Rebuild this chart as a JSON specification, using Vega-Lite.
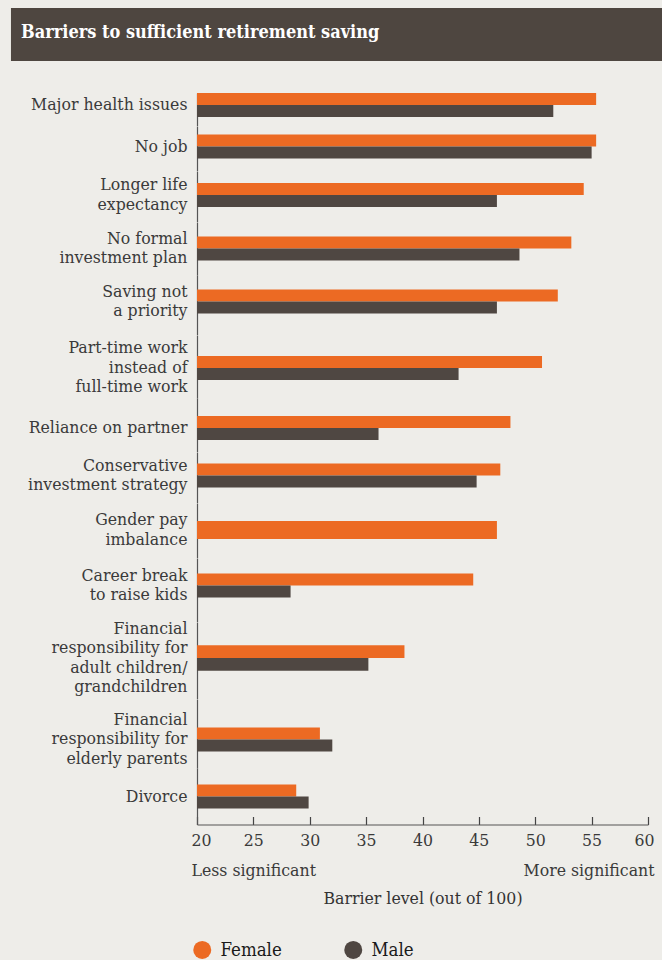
{
  "$schema": "https://vega.github.io/schema/vega-lite/v6.json",
  "background": "#eeede9",
  "padding": {"left": 10, "top": 8, "right": 0, "bottom": 0},
  "autosize": {"type": "pad"},
  "config": {
    "font": "DejaVu Serif Condensed",
    "view": {"stroke": null},
    "axisY": {"domainColor": "#555555", "domainWidth": 1.2, "ticks": false, "labelPadding": 10, "labelFont": "DejaVu Serif Condensed", "labelFontSize": 17.5, "labelColor": "#3a3a3a", "labelLineHeight": 19.5, "labelLimit": 400, "grid": false, "zindex": 1}
  },
  "datasets": {
    "barriers": [
      {"barrier": "Major health issues", "gender": "Female", "value": 55.4},
      {"barrier": "Major health issues", "gender": "Male", "value": 51.6},
      {"barrier": "No job", "gender": "Female", "value": 55.4},
      {"barrier": "No job", "gender": "Male", "value": 55.0},
      {"barrier": "Longer life|expectancy", "gender": "Female", "value": 54.3},
      {"barrier": "Longer life|expectancy", "gender": "Male", "value": 46.6},
      {"barrier": "No formal|investment plan", "gender": "Female", "value": 53.2},
      {"barrier": "No formal|investment plan", "gender": "Male", "value": 48.6},
      {"barrier": "Saving not|a priority", "gender": "Female", "value": 52.0},
      {"barrier": "Saving not|a priority", "gender": "Male", "value": 46.6},
      {"barrier": "Part-time work|instead of|full-time work", "gender": "Female", "value": 50.6},
      {"barrier": "Part-time work|instead of|full-time work", "gender": "Male", "value": 43.2},
      {"barrier": "Reliance on partner", "gender": "Female", "value": 47.8},
      {"barrier": "Reliance on partner", "gender": "Male", "value": 36.1},
      {"barrier": "Conservative|investment strategy", "gender": "Female", "value": 46.9},
      {"barrier": "Conservative|investment strategy", "gender": "Male", "value": 44.8},
      {"barrier": "Gender pay|imbalance", "gender": "Female", "value": 46.6},
      {"barrier": "Career break|to raise kids", "gender": "Female", "value": 44.5},
      {"barrier": "Career break|to raise kids", "gender": "Male", "value": 28.3},
      {"barrier": "Financial|responsibility for|adult children/|grandchildren", "gender": "Female", "value": 38.4},
      {"barrier": "Financial|responsibility for|adult children/|grandchildren", "gender": "Male", "value": 35.2},
      {"barrier": "Financial|responsibility for|elderly parents", "gender": "Female", "value": 30.9},
      {"barrier": "Financial|responsibility for|elderly parents", "gender": "Male", "value": 32.0},
      {"barrier": "Divorce", "gender": "Female", "value": 28.8},
      {"barrier": "Divorce", "gender": "Male", "value": 29.9}
    ]
  },
  "resolve": {"scale": {"color": "independent", "yOffset": "independent"}, "legend": {"color": "independent"}},
  "spacing": 32,
  "vconcat": [
    {
      "width": 451,
      "height": 53,
      "data": {"values": [{}]},
      "mark": {"type": "rect", "color": "#4e4640", "clip": false},
      "encoding": {
        "x": {"datum": 3.5, "type": "quantitative", "scale": {"domain": [20, 60], "nice": false, "zero": false}, "axis": null},
        "x2": {"datum": 61.33}
      },
      "title": {"text": "Barriers to sufficient retirement saving", "anchor": "start", "frame": "group", "orient": "top", "offset": -34, "dx": -176, "color": "#ffffff", "font": "DejaVu Serif Condensed", "fontSize": 18, "fontWeight": "bold"}
    },
    {
      "spacing": 0,
      "bounds": "flush",
      "resolve": {"scale": {"color": "independent", "yOffset": "independent", "y": "independent"}, "legend": {"color": "independent"}},
      "vconcat": [
        {"width": 451, "height": 32.5, "data": {"name": "barriers"}, "transform": [{"filter": {"field": "barrier", "equal": "Major health issues"}}], "mark": "bar",
         "encoding": {
           "y": {"field": "barrier", "type": "nominal", "scale": {"paddingInner": 0, "paddingOuter": 0.177, "align": 0}, "axis": {"title": null, "labelExpr": "split(datum.label, '|')"}},
           "yOffset": {"field": "gender", "type": "nominal", "scale": {"domain": ["Female", "Male"], "paddingInner": 0, "paddingOuter": 0}},
           "x": {"field": "value", "type": "quantitative", "scale": {"domain": [20, 60], "nice": false, "zero": false}, "axis": null},
           "x2": {"datum": 20},
           "color": {"field": "gender", "type": "nominal", "scale": {"domain": ["Female", "Male"], "range": ["#ec6a23", "#4f4742"]}, "legend": null}}},
        {"width": 451, "height": 44.5, "data": {"name": "barriers"}, "transform": [{"filter": {"field": "barrier", "equal": "No job"}}], "mark": "bar",
         "encoding": {
           "y": {"field": "barrier", "type": "nominal", "scale": {"paddingInner": 0, "paddingOuter": 0.427, "align": 0.415}, "axis": {"title": null, "labelExpr": "split(datum.label, '|')"}},
           "yOffset": {"field": "gender", "type": "nominal", "scale": {"domain": ["Female", "Male"], "paddingInner": 0, "paddingOuter": 0}},
           "x": {"field": "value", "type": "quantitative", "scale": {"domain": [20, 60], "nice": false, "zero": false}, "axis": null},
           "x2": {"datum": 20},
           "color": {"field": "gender", "type": "nominal", "scale": {"domain": ["Female", "Male"], "range": ["#ec6a23", "#4f4742"]}, "legend": null}}},
        {"width": 451, "height": 50.5, "data": {"name": "barriers"}, "transform": [{"filter": {"field": "barrier", "equal": "Longer life|expectancy"}}], "mark": "bar",
         "encoding": {
           "y": {"field": "barrier", "type": "nominal", "scale": {"paddingInner": 0, "paddingOuter": 0.552, "align": 0.453}, "axis": {"title": null, "labelOffset": -9.75, "labelExpr": "split(datum.label, '|')"}},
           "yOffset": {"field": "gender", "type": "nominal", "scale": {"domain": ["Female", "Male"], "paddingInner": 0, "paddingOuter": 0}},
           "x": {"field": "value", "type": "quantitative", "scale": {"domain": [20, 60], "nice": false, "zero": false}, "axis": null},
           "x2": {"datum": 20},
           "color": {"field": "gender", "type": "nominal", "scale": {"domain": ["Female", "Male"], "range": ["#ec6a23", "#4f4742"]}, "legend": null}}},
        {"width": 451, "height": 53, "data": {"name": "barriers"}, "transform": [{"filter": {"field": "barrier", "equal": "No formal|investment plan"}}], "mark": "bar",
         "encoding": {
           "y": {"field": "barrier", "type": "nominal", "scale": {"paddingInner": 0, "paddingOuter": 0.604, "align": 0.5}, "axis": {"title": null, "labelOffset": -9.75, "labelExpr": "split(datum.label, '|')"}},
           "yOffset": {"field": "gender", "type": "nominal", "scale": {"domain": ["Female", "Male"], "paddingInner": 0, "paddingOuter": 0}},
           "x": {"field": "value", "type": "quantitative", "scale": {"domain": [20, 60], "nice": false, "zero": false}, "axis": null},
           "x2": {"datum": 20},
           "color": {"field": "gender", "type": "nominal", "scale": {"domain": ["Female", "Male"], "range": ["#ec6a23", "#4f4742"]}, "legend": null}}},
        {"width": 451, "height": 59.5, "data": {"name": "barriers"}, "transform": [{"filter": {"field": "barrier", "equal": "Saving not|a priority"}}], "mark": "bar",
         "encoding": {
           "y": {"field": "barrier", "type": "nominal", "scale": {"paddingInner": 0, "paddingOuter": 0.74, "align": 0.408}, "axis": {"title": null, "labelOffset": -9.75, "labelExpr": "split(datum.label, '|')"}},
           "yOffset": {"field": "gender", "type": "nominal", "scale": {"domain": ["Female", "Male"], "paddingInner": 0, "paddingOuter": 0}},
           "x": {"field": "value", "type": "quantitative", "scale": {"domain": [20, 60], "nice": false, "zero": false}, "axis": null},
           "x2": {"datum": 20},
           "color": {"field": "gender", "type": "nominal", "scale": {"domain": ["Female", "Male"], "range": ["#ec6a23", "#4f4742"]}, "legend": null}}},
        {"width": 451, "height": 63, "data": {"name": "barriers"}, "transform": [{"filter": {"field": "barrier", "equal": "Part-time work|instead of|full-time work"}}], "mark": "bar",
         "encoding": {
           "y": {"field": "barrier", "type": "nominal", "scale": {"paddingInner": 0, "paddingOuter": 0.8125, "align": 0.538}, "axis": {"title": null, "labelOffset": -19.5, "labelExpr": "split(datum.label, '|')"}},
           "yOffset": {"field": "gender", "type": "nominal", "scale": {"domain": ["Female", "Male"], "paddingInner": 0, "paddingOuter": 0}},
           "x": {"field": "value", "type": "quantitative", "scale": {"domain": [20, 60], "nice": false, "zero": false}, "axis": null},
           "x2": {"datum": 20},
           "color": {"field": "gender", "type": "nominal", "scale": {"domain": ["Female", "Male"], "range": ["#ec6a23", "#4f4742"]}, "legend": null}}},
        {"width": 451, "height": 53.5, "data": {"name": "barriers"}, "transform": [{"filter": {"field": "barrier", "equal": "Reliance on partner"}}], "mark": "bar",
         "encoding": {
           "y": {"field": "barrier", "type": "nominal", "scale": {"paddingInner": 0, "paddingOuter": 0.615, "align": 0.61}, "axis": {"title": null, "labelExpr": "split(datum.label, '|')"}},
           "yOffset": {"field": "gender", "type": "nominal", "scale": {"domain": ["Female", "Male"], "paddingInner": 0, "paddingOuter": 0}},
           "x": {"field": "value", "type": "quantitative", "scale": {"domain": [20, 60], "nice": false, "zero": false}, "axis": null},
           "x2": {"datum": 20},
           "color": {"field": "gender", "type": "nominal", "scale": {"domain": ["Female", "Male"], "range": ["#ec6a23", "#4f4742"]}, "legend": null}}},
        {"width": 451, "height": 50.5, "data": {"name": "barriers"}, "transform": [{"filter": {"field": "barrier", "equal": "Conservative|investment strategy"}}], "mark": "bar",
         "encoding": {
           "y": {"field": "barrier", "type": "nominal", "scale": {"paddingInner": 0, "paddingOuter": 0.552, "align": 0.434}, "axis": {"title": null, "labelOffset": -9.75, "labelExpr": "split(datum.label, '|')"}},
           "yOffset": {"field": "gender", "type": "nominal", "scale": {"domain": ["Female", "Male"], "paddingInner": 0, "paddingOuter": 0}},
           "x": {"field": "value", "type": "quantitative", "scale": {"domain": [20, 60], "nice": false, "zero": false}, "axis": null},
           "x2": {"datum": 20},
           "color": {"field": "gender", "type": "nominal", "scale": {"domain": ["Female", "Male"], "range": ["#ec6a23", "#4f4742"]}, "legend": null}}},
        {"width": 451, "height": 54.5, "data": {"name": "barriers"}, "transform": [{"filter": {"field": "barrier", "equal": "Gender pay|imbalance"}}], "mark": "bar",
         "encoding": {
           "y": {"field": "barrier", "type": "nominal", "scale": {"paddingInner": 0, "paddingOuter": 1.771, "align": 0.494}, "axis": {"title": null, "labelOffset": -9.75, "labelExpr": "split(datum.label, '|')"}},
           "yOffset": {"field": "gender", "type": "nominal", "scale": {"domain": ["Female"], "paddingInner": 0, "paddingOuter": 0}},
           "x": {"field": "value", "type": "quantitative", "scale": {"domain": [20, 60], "nice": false, "zero": false}, "axis": null},
           "x2": {"datum": 20},
           "color": {"field": "gender", "type": "nominal", "scale": {"domain": ["Female", "Male"], "range": ["#ec6a23", "#4f4742"]}, "legend": null}}},
        {"width": 451, "height": 63.5, "data": {"name": "barriers"}, "transform": [{"filter": {"field": "barrier", "equal": "Career break|to raise kids"}}], "mark": "bar",
         "encoding": {
           "y": {"field": "barrier", "type": "nominal", "scale": {"paddingInner": 0, "paddingOuter": 0.823, "align": 0.392}, "axis": {"title": null, "labelOffset": -9.75, "labelExpr": "split(datum.label, '|')"}},
           "yOffset": {"field": "gender", "type": "nominal", "scale": {"domain": ["Female", "Male"], "paddingInner": 0, "paddingOuter": 0}},
           "x": {"field": "value", "type": "quantitative", "scale": {"domain": [20, 60], "nice": false, "zero": false}, "axis": null},
           "x2": {"datum": 20},
           "color": {"field": "gender", "type": "nominal", "scale": {"domain": ["Female", "Male"], "range": ["#ec6a23", "#4f4742"]}, "legend": null}}},
        {"width": 451, "height": 76.5, "data": {"name": "barriers"}, "transform": [{"filter": {"field": "barrier", "equal": "Financial|responsibility for|adult children/|grandchildren"}}], "mark": "bar",
         "encoding": {
           "y": {"field": "barrier", "type": "nominal", "scale": {"paddingInner": 0, "paddingOuter": 1.094, "align": 0.457}, "axis": {"title": null, "labelOffset": -29.25, "labelExpr": "split(datum.label, '|')"}},
           "yOffset": {"field": "gender", "type": "nominal", "scale": {"domain": ["Female", "Male"], "paddingInner": 0, "paddingOuter": 0}},
           "x": {"field": "value", "type": "quantitative", "scale": {"domain": [20, 60], "nice": false, "zero": false}, "axis": null},
           "x2": {"datum": 20},
           "color": {"field": "gender", "type": "nominal", "scale": {"domain": ["Female", "Male"], "range": ["#ec6a23", "#4f4742"]}, "legend": null}}},
        {"width": 451, "height": 69, "data": {"name": "barriers"}, "transform": [{"filter": {"field": "barrier", "equal": "Financial|responsibility for|elderly parents"}}], "mark": "bar",
         "encoding": {
           "y": {"field": "barrier", "type": "nominal", "scale": {"paddingInner": 0, "paddingOuter": 0.9375, "align": 0.633}, "axis": {"title": null, "labelOffset": -19.5, "labelExpr": "split(datum.label, '|')"}},
           "yOffset": {"field": "gender", "type": "nominal", "scale": {"domain": ["Female", "Male"], "paddingInner": 0, "paddingOuter": 0}},
           "x": {"field": "value", "type": "quantitative", "scale": {"domain": [20, 60], "nice": false, "zero": false}, "axis": null},
           "x2": {"datum": 20},
           "color": {"field": "gender", "type": "nominal", "scale": {"domain": ["Female", "Male"], "range": ["#ec6a23", "#4f4742"]}, "legend": null}}},
        {"width": 451, "height": 56.5, "data": {"name": "barriers"}, "transform": [{"filter": {"field": "barrier", "equal": "Divorce"}}], "mark": "bar",
         "encoding": {
           "y": {"field": "barrier", "type": "nominal", "scale": {"paddingInner": 0, "paddingOuter": 0.677, "align": 0.508}, "axis": {"title": null, "labelExpr": "split(datum.label, '|')"}},
           "yOffset": {"field": "gender", "type": "nominal", "scale": {"domain": ["Female", "Male"], "paddingInner": 0, "paddingOuter": 0}},
           "x": {"field": "value", "type": "quantitative", "scale": {"domain": [20, 60], "nice": false, "zero": false},
                 "axis": {"values": [20, 25, 30, 35, 40, 45, 50, 55, 60], "title": "Barrier level (out of 100)", "grid": false, "domain": true, "domainColor": "#555555", "domainWidth": 1.2, "ticks": true, "tickSize": -8, "tickColor": "#444444", "tickWidth": 1.2, "labelPadding": 15, "labelFont": "DejaVu Serif Condensed", "labelFontSize": 17.5, "labelColor": "#3a3a3a", "labelLineHeight": 30, "labelBaseline": "top", "labelFlush": false, "labelOverlap": false,
                          "labelExpr": "datum.value == 20 ? ['20', 'Less significant'] : datum.value == 60 ? ['60', 'More significant'] : datum.label",
                          "labelAlign": {"expr": "datum.value == 20 ? 'left' : datum.value == 60 ? 'right' : 'center'"},
                          "labelOffset": {"expr": "datum.value == 20 ? -6 : datum.value == 60 ? 6 : 0"},
                          "titleFont": "DejaVu Serif Condensed", "titleFontSize": 17.5, "titleFontWeight": "normal", "titleColor": "#333333", "titlePadding": 10}},
           "x2": {"datum": 20},
           "color": {"field": "gender", "type": "nominal", "scale": {"domain": ["Female", "Male"], "range": ["#ec6a23", "#4f4742"]},
                     "legend": {"orient": "none", "legendX": -4, "legendY": 172.5, "direction": "horizontal", "title": null, "symbolType": "circle", "symbolSize": 324, "symbolStrokeWidth": 0, "symbolOpacity": 1, "labelFont": "DejaVu Serif Condensed", "labelFontSize": 18.5, "labelColor": "#1a1a1a", "labelOffset": 9, "columnPadding": 62, "padding": 0}}}}
      ]
    }
  ]
}
